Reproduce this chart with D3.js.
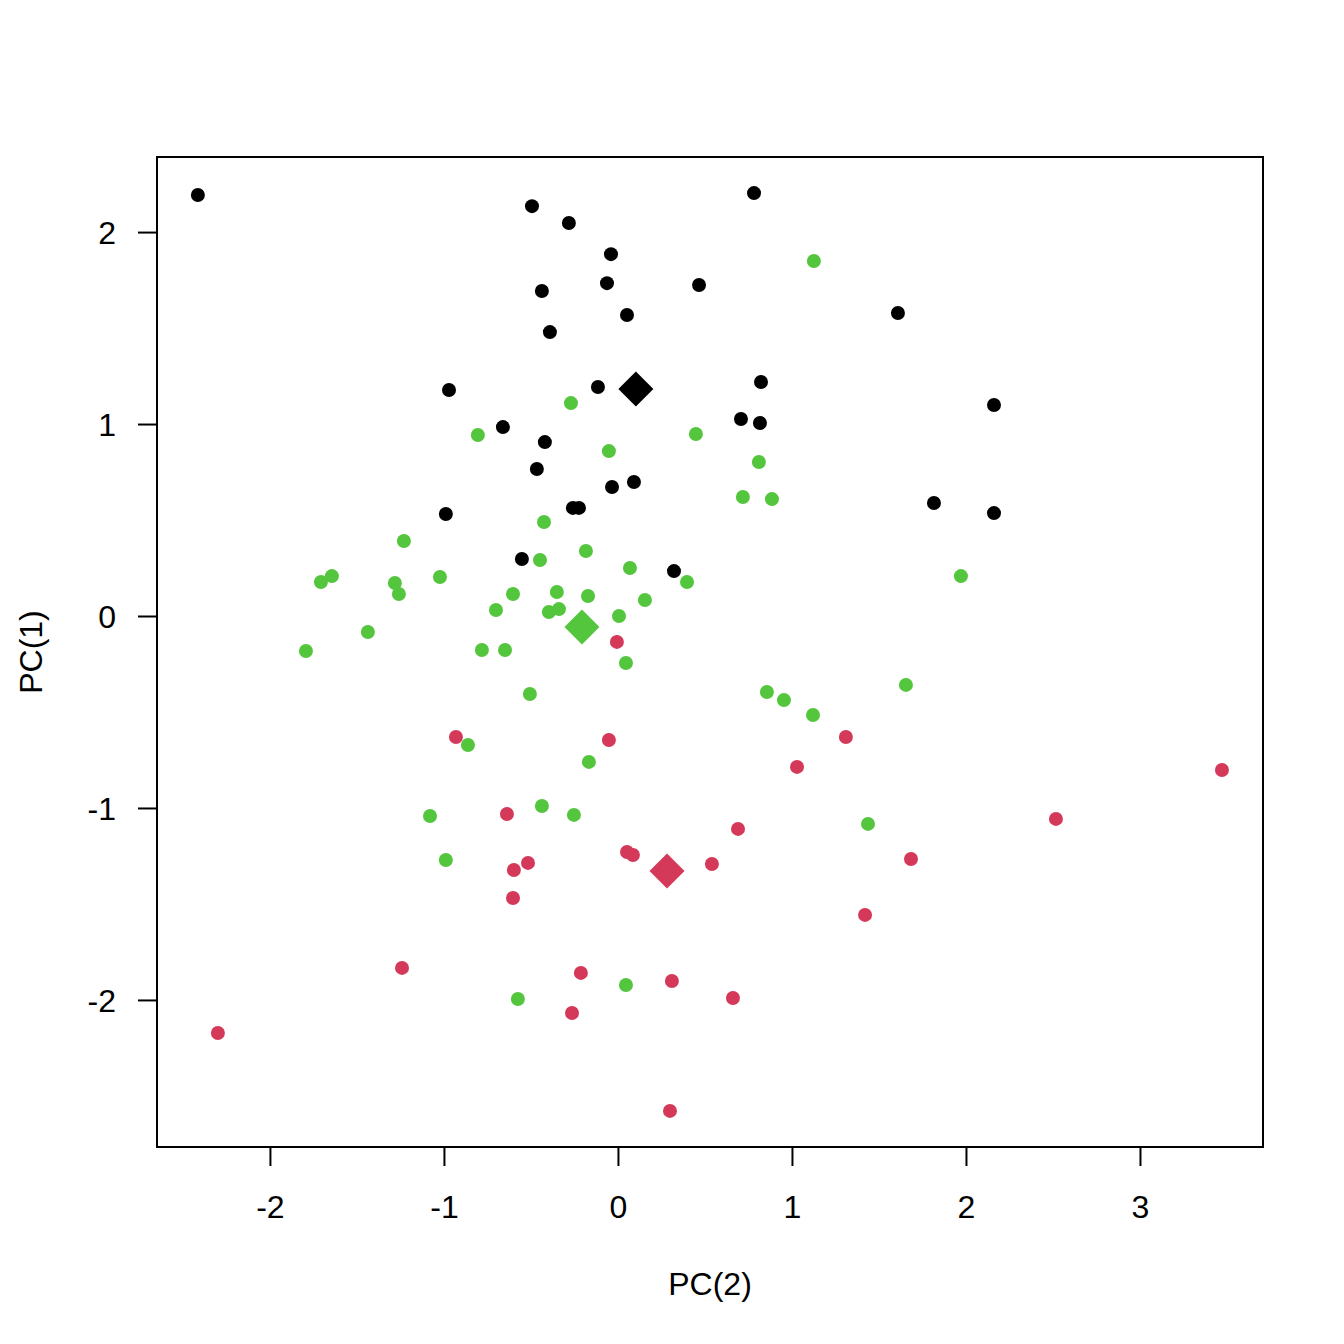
<!DOCTYPE html>
<html>
<head>
<meta charset="utf-8">
<script src="https://cdn.jsdelivr.net/npm/d3@7"></script>
<style>
  html, body { margin: 0; padding: 0; background: #ffffff; }
  svg { display: block; }
  text { font-family: "Liberation Sans", Arial, Helvetica, sans-serif; fill: #000; }
</style>
</head>
<body>
<script>
// ---- data ----
const groupNames = ["1", "2", "3"];
const groupColors = ["#000000", "#D5395A", "#54C63D"];

const blackX = [-2.414, -0.494, -0.282, 0.782, -0.040, -0.063, 0.466, -0.437, 0.052, 1.609,
  -0.391, -0.971, -0.115, 0.822, 2.161, 0.707, 0.816, -0.661, -0.420, -0.466,
  -0.034, 0.092, 1.816, 2.161, -0.989, -0.259, -0.224, -0.552, 0.322];
const blackY = [2.193, 2.135, 2.047, 2.203, 1.885, 1.734, 1.724, 1.693, 1.568, 1.578,
  1.479, 1.177, 1.193, 1.219, 1.099, 1.026, 1.005, 0.984, 0.906, 0.766,
  0.672, 0.698, 0.589, 0.536, 0.531, 0.563, 0.563, 0.297, 0.234];

const greenX = [1.126, -0.270, -0.805, 0.448, -0.052, 0.810, 0.718, 0.885, -0.425, -1.230,
  -0.184, -0.448, 0.069, -1.644, -1.707, -1.023, -1.282, -1.259, 1.971, 0.397,
  -0.351, -0.603, -0.172, 0.155, -0.701, -0.339, -0.397, 0.006, -1.437, -1.793,
  -0.782, -0.649, 0.046, 1.655, -0.506, 0.856, 0.954, 1.121, -0.862, -0.167,
  -0.437, -1.080, -0.253, 1.437, -0.989, -0.575, 0.046];
const greenY = [1.849, 1.109, 0.943, 0.948, 0.859, 0.802, 0.620, 0.609, 0.490, 0.391,
  0.339, 0.292, 0.250, 0.208, 0.177, 0.203, 0.172, 0.115, 0.208, 0.177,
  0.125, 0.115, 0.104, 0.083, 0.031, 0.036, 0.021, 0.000, -0.083, -0.182,
  -0.177, -0.177, -0.245, -0.359, -0.406, -0.396, -0.438, -0.516, -0.672, -0.760,
  -0.990, -1.042, -1.036, -1.083, -1.271, -1.995, -1.922];

const redX = [-0.006, -0.931, -0.052, 1.310, 1.029, 3.471, -0.638, 2.517, 0.690, 0.052,
  0.086, 1.684, -0.517, -0.598, 0.540, -0.603, 1.420, -1.241, -0.213, 0.310,
  0.661, -0.264, -2.299, 0.299];
const redY = [-0.135, -0.630, -0.646, -0.630, -0.786, -0.802, -1.031, -1.057, -1.109, -1.229,
  -1.245, -1.266, -1.286, -1.323, -1.292, -1.469, -1.557, -1.833, -1.859, -1.901,
  -1.990, -2.068, -2.172, -2.578];

// group centroids (large diamonds)
const centerX = [0.103, 0.282, -0.207];
const centerY = [1.182, -1.328, -0.057];

const xTicks = [-2, -1, 0, 1, 2, 3];
const yTicks = [-2, -1, 0, 1, 2];
const xDomain = [-2.649, 3.707];
const yDomain = [-2.766, 2.391];
const xTitle = "PC(2)";
const yTitle = "PC(1)";

// ---- drawing ----
const W = 1344, H = 1344;
const plot = { left: 157, right: 1263, top: 157, bottom: 1147 };
const fontSize = 32;

const svg = d3.select("body").append("svg").attr("width", W).attr("height", H);
svg.append("rect").attr("width", W).attr("height", H).attr("fill", "#fff");

const x = d3.scaleLinear().domain(xDomain).range([plot.left, plot.right]);
const y = d3.scaleLinear().domain(yDomain).range([plot.bottom, plot.top]);

const series = [
  { xs: greenX, ys: greenY, color: groupColors[2] },
  { xs: redX, ys: redY, color: groupColors[1] },
  { xs: blackX, ys: blackY, color: groupColors[0] }
];

const pts = svg.append("g");
series.forEach(s => {
  pts.selectAll(null)
    .data(d3.range(s.xs.length))
    .enter().append("circle")
    .attr("cx", i => x(s.xs[i]))
    .attr("cy", i => y(s.ys[i]))
    .attr("r", 7)
    .attr("fill", s.color);
});

// centroid diamonds
const dsz = 17.5;
svg.append("g").selectAll("path")
  .data(d3.range(centerX.length))
  .enter().append("path")
  .attr("d", i => {
    const cx = x(centerX[i]), cy = y(centerY[i]);
    return `M${cx},${cy - dsz}L${cx + dsz},${cy}L${cx},${cy + dsz}L${cx - dsz},${cy}Z`;
  })
  .attr("fill", i => groupColors[i]);

// axes
const xAxis = d3.axisBottom(x).tickValues(xTicks).tickFormat(d => String(d).replace("−", "-"))
  .tickSizeOuter(0).tickSizeInner(19).tickPadding(0);
const gx = svg.append("g").attr("transform", `translate(0,${plot.bottom})`).call(xAxis);
gx.select(".domain").attr("d", `M${x(xTicks[0])},0H${x(xTicks[xTicks.length - 1])}`)
  .attr("stroke", "#000").attr("stroke-width", 2);
gx.selectAll(".tick line").attr("stroke", "#000").attr("stroke-width", 2);
gx.selectAll(".tick text").attr("font-size", fontSize).attr("y", 71).attr("dy", 0)
  .attr("font-family", '"Liberation Sans", Arial, sans-serif').attr("fill", "#000");

const yAxis = d3.axisLeft(y).tickValues(yTicks).tickFormat(d => String(d).replace("−", "-"))
  .tickSizeOuter(0).tickSizeInner(19).tickPadding(0);
const gy = svg.append("g").attr("transform", `translate(${plot.left},0)`).call(yAxis);
gy.select(".domain").attr("d", `M0,${y(yTicks[0])}V${y(yTicks[yTicks.length - 1])}`)
  .attr("stroke", "#000").attr("stroke-width", 2);
gy.selectAll(".tick line").attr("stroke", "#000").attr("stroke-width", 2);
gy.selectAll(".tick text").attr("font-size", fontSize).attr("x", -41).attr("dy", 11.5)
  .attr("text-anchor", "end")
  .attr("font-family", '"Liberation Sans", Arial, sans-serif').attr("fill", "#000");

// box
svg.append("rect")
  .attr("x", plot.left).attr("y", plot.top)
  .attr("width", plot.right - plot.left).attr("height", plot.bottom - plot.top)
  .attr("fill", "none").attr("stroke", "#000").attr("stroke-width", 2);

// titles
svg.append("text")
  .attr("x", (plot.left + plot.right) / 2).attr("y", 1295)
  .attr("text-anchor", "middle").attr("font-size", fontSize)
  .text(xTitle);
svg.append("text")
  .attr("transform", `translate(41.5,${(plot.top + plot.bottom) / 2}) rotate(-90)`)
  .attr("text-anchor", "middle").attr("font-size", fontSize)
  .text(yTitle);
</script>
</body>
</html>
